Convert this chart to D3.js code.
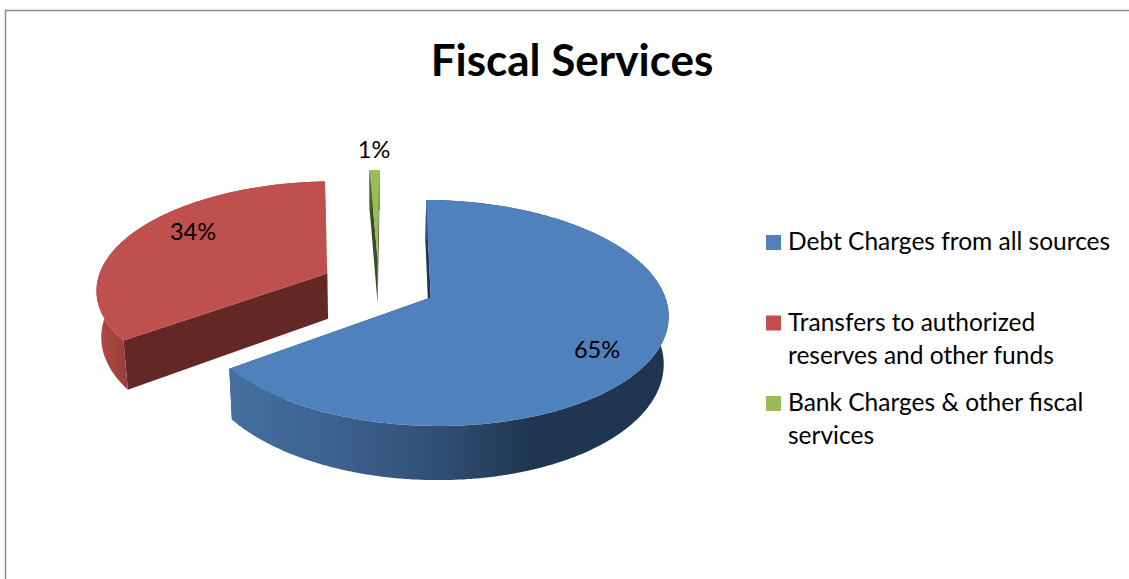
<!DOCTYPE html>
<html><head><meta charset="utf-8">
<script src="https://cdn.jsdelivr.net/npm/d3@7/dist/d3.min.js"></script>
<style>html,body{margin:0;padding:0;background:#fff;overflow:hidden}text{font-family:Lato,"Open Sans",sans-serif;fill:#000}</style>
</head><body><svg id="c" width="1129" height="579"></svg>
<script>
const title = "Fiscal Services";
const categories = ["Debt Charges from all sources","Transfers to authorized reserves and other funds","Bank Charges & other fiscal services"];
const values = [64.8,34.4,0.8];
const labels = ["65%","34%","1%"];
const colors = ["#4f81bd","#c0504d","#9bbb59"];
const legendLines = [["Debt Charges from all sources"],["Transfers to authorized","reserves and other funds"],["Bank Charges & other fiscal","services"]];
const wallStops = [
  [["0","#44709f"],["0.25","#3c618e"],["0.5","#2f4d72"],["0.68","#203650"],["1","#1f3450"]],
  [["0","#b24a47"],["1","#9a3f3c"]],
  [["0","#4d6628"],["1","#3c5220"]]
];
const cutColors = ["#1f3450","#632826","#3a4f1f"];
const labelPos = [[597,350],[193,232],[374,150]];

const svg = d3.select("#c");
const cx=378.5, cy=285, Rx=231, A=107.5, persp=0.135, explode=0.25, H=46, bottomShrink=0.983, startDeg=0.5;
const sxScale=d3.scaleLinear().domain([0,1]).range([cx,cx+Rx]);
const syScale=d3.scaleLinear().domain([0,1]).range([cy,cy+A]);
function proj(x,z,low){const s=1/(1-persp*z);
  let px=sxScale(x*s), py=syScale(z*s);
  if(low){px=cx+(px-cx)*bottomShrink; py+=H*s;}
  return [px,py];}
const pie=d3.pie().sort(null).startAngle(startDeg*Math.PI/180).endAngle((360+startDeg)*Math.PI/180)(values);
const line=d3.line();

// borders
svg.append("path").attr("d",d3.line()([[5.5,579],[5.5,10.5],[1129,10.5]])).attr("fill","none").attr("stroke","#8c8c8c").attr("stroke-width",1.5);

const defs=svg.append("defs");
const order=[1,2,0];
order.forEach(i=>{
  const d=pie[i], mid=(d.startAngle+d.endAngle)/2;
  const ox=explode*Math.sin(mid), oz=-explode*Math.cos(mid);
  const rim=(a,low)=>proj(ox+Math.sin(a),oz-Math.cos(a),low);
  const apex=low=>proj(ox,oz,low);
  const angs=d3.range(d.startAngle,d.endAngle,Math.PI/360).concat([d.endAngle]);
  const topRim=angs.map(a=>rim(a,false)), lowRim=angs.map(a=>rim(a,true));
  const xExt=d3.extent(topRim,p=>p[0]);
  const gid="wall"+i;
  const grad=defs.append("linearGradient").attr("id",gid).attr("gradientUnits","userSpaceOnUse")
    .attr("x1",xExt[0]).attr("x2",i===1?rim(d.startAngle,false)[0]:xExt[1]).attr("y1",0).attr("y2",0);
  wallStops[i].forEach(s=>grad.append("stop").attr("offset",s[0]).attr("stop-color",s[1]));
  const g=svg.append("g");
  // cut faces
  [d.startAngle,d.endAngle].forEach(a=>{
    g.append("path").attr("d",line([rim(a,false),apex(false),apex(true),rim(a,true)])+"Z").attr("fill",cutColors[i]);
  });
  // outer wall
  g.append("path").attr("d",line(topRim.concat(lowRim.slice().reverse()))+"Z").attr("fill",`url(#${gid})`);
  // top face
  g.append("path").attr("d",line([apex(false)].concat(topRim))+"Z").attr("fill",colors[i]);
});

// percent labels
labels.forEach((t,i)=>svg.append("text").attr("x",labelPos[i][0]).attr("y",labelPos[i][1]).attr("dy","0.35em")
  .attr("text-anchor","middle").attr("font-size",23.5).text(t));

svg.append("text").attr("x",572).attr("y",76).attr("text-anchor","middle").attr("font-size",44).attr("font-weight",700).text(title);

// legend
const legendY=d3.scalePoint().domain(categories).range([250,411]);
const lineH=33;
categories.forEach((c,i)=>{
  const y=legendY(c);
  svg.append("rect").attr("x",766).attr("y",y-15).attr("width",15).attr("height",15).attr("fill",colors[i]);
  legendLines[i].forEach((t,j)=>svg.append("text").attr("x",788).attr("y",y+j*lineH).attr("font-size",24.5).text(t));
});
</script></body></html>
